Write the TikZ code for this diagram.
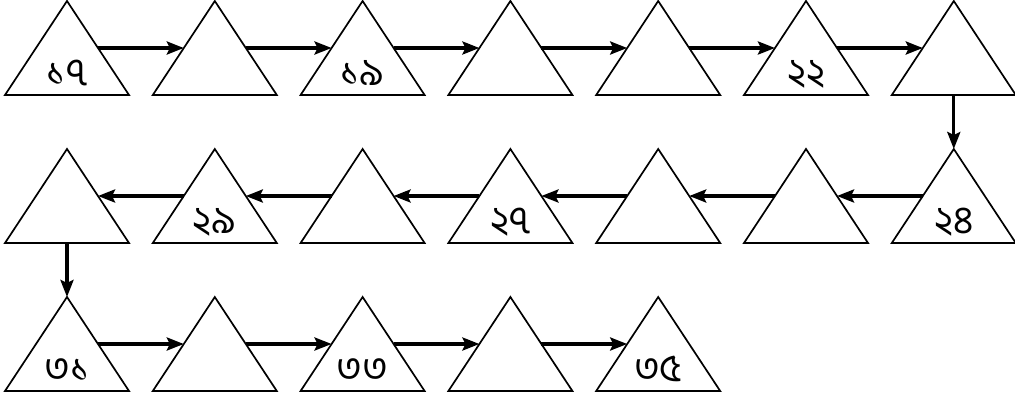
\documentclass[tikz,border=0pt]{standalone}
\usepackage{fontspec}
\newfontfamily\bn[Script=Bengali]{Hind Siliguri}
\usetikzlibrary{arrows.meta,calc}
\begin{document}
\begin{tikzpicture}[x=1pt,y=-1pt,
  tri/.style={line width=1.7pt,line join=miter},
  conn/.style={line width=3.3pt,-{Stealth[length=17pt,width=13pt,inset=3pt]}},
  num/.style={font=\bn\fontsize{39}{39}\selectfont,inner sep=0pt,anchor=base,text depth=2pt,text height=22pt}]
\useasboundingbox (0,0) rectangle (1015,399);
\foreach \r/\m in {1/7,2/7,3/5}{
  \foreach \k in {1,...,\m}{
    \pgfmathsetmacro\cx{67+147.8*(\k-1)}
    \pgfmathsetmacro\ay{1+148*(\r-1)}
    \coordinate (A\r\k) at (\cx,\ay);
    \coordinate (B\r\k) at (\cx,\ay+94);
    \coordinate (L\r\k) at (\cx-31,\ay+47);
    \coordinate (R\r\k) at (\cx+31,\ay+47);
    \draw[tri] (\cx,\ay) -- (\cx+62,\ay+94) -- (\cx-62,\ay+94) -- cycle;
  }
}
% labels
\node[num] (n17) at ($(B11)+(0,-10)$) {১৭};
\node[num] (n19) at ($(B13)+(0,-10)$) {১৯};
\node[num] (n22) at ($(B16)+(0,-10)$) {২২};
\node[num] (n24) at ($(B27)+(0,-10)$) {২৪};
\node[num] (n27) at ($(B24)+(0,-10)$) {২৭};
\node[num] (n29) at ($(B22)+(0,-10)$) {২৯};
\node[num] (n31) at ($(B31)+(0,-10)$) {৩১};
\node[num] (n33) at ($(B33)+(0,-10)$) {৩৩};
\node[num] (n35) at ($(B35)+(0,-10)$) {৩৫};
% row 1
\foreach \a/\b in {1/2,2/3,3/4,4/5,5/6,6/7}{\draw[conn] (R1\a) -- (L1\b);}
\draw[conn] (B17) -- (A27);
% row 2 (right to left)
\foreach \a/\b in {7/6,6/5,5/4,4/3,3/2,2/1}{\draw[conn] (L2\a) -- (R2\b);}
\draw[conn] (B21) -- (A31);
% row 3
\foreach \a/\b in {1/2,2/3,3/4,4/5}{\draw[conn] (R3\a) -- (L3\b);}
\end{tikzpicture}
\end{document}
